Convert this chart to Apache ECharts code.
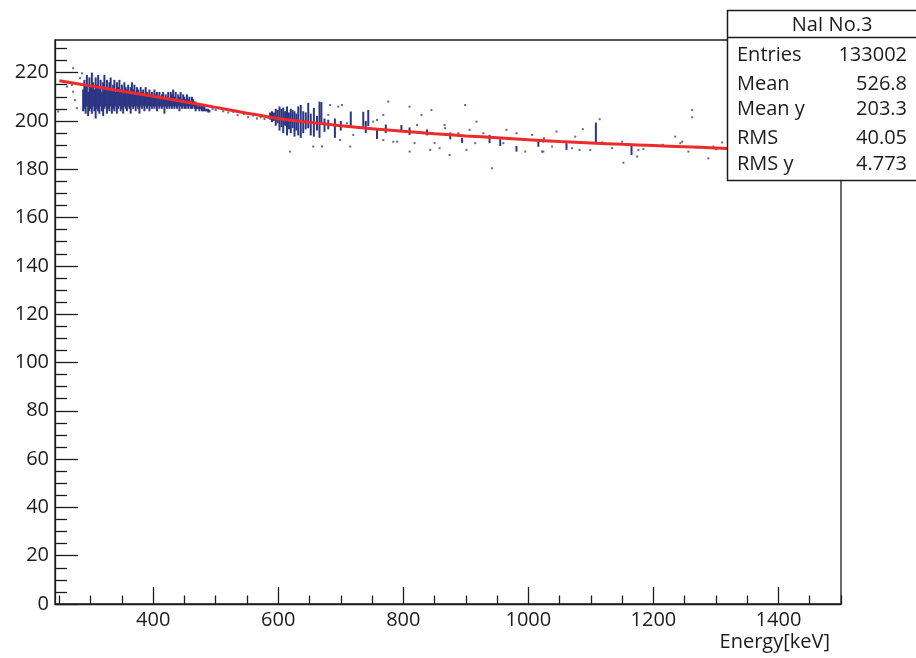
<!DOCTYPE html>
<html>
<head>
<meta charset="utf-8">
<script src="https://cdn.jsdelivr.net/npm/echarts@6/dist/echarts.min.js"></script>
<style>html,body{margin:0;padding:0;background:#fff}#c{width:916px;height:658px}</style>
</head>
<body>
<div id="c"></div>
<script>
// ---- axis ticks / labels ----
const xLabels = [400, 600, 800, 1000, 1200, 1400];
const xMinor = [250, 300, 350, 450, 500, 550, 650, 700, 750, 850, 900, 950, 1050, 1100, 1150, 1250, 1300, 1350, 1450, 1500];
const yLabels = [0, 20, 40, 60, 80, 100, 120, 140, 160, 180, 200, 220];
const yMinor = [5, 10, 15, 25, 30, 35, 45, 50, 55, 65, 70, 75, 85, 90, 95, 105, 110, 115, 125, 130, 135, 145, 150, 155, 165, 170, 175, 185, 190, 195, 205, 210, 215, 225, 230];

// ---- dense band (bins, low / high ends of the filled columns) ----
const denseX = [288,290,292,294,296,298,300,302,304,306,
  308,310,312,314,316,318,320,322,324,326,
  328,330,332,334,336,338,340,342,344,346,
  348,350,352,354,356,358,360,362,364,366,
  368,370,372,374,376,378,380,382,384,386,
  388,390,392,394,396,398,400,402,404,406,
  408,410,412,414,416,418,420,422,424,426,
  428,430,432,434,436,438,440,442,444,446,
  448,450,452,454,456,458,460,462,464,466,
  468,470,472,474,476,478,480,482,484,486,
  488,490];
const denseHi = [213,217,215,219,212,218,214,220,216,213,
  218,215,219,214,217,212,216,219,214,217,
  213,216,218,213,215,217,212,216,214,217,
  213,215,212,216,214,213,215,212,214,216,
  213,215,212,214,213,211,214,212,213,211,
  214,212,210,213,211,212,210,213,211,212,
  210,212,209,211,212,209,211,210,212,209,
  212,211,213,210,212,209,211,210,212,209,
  211,210,209,211,209,210,208,210,209,208,
  208,207,206,207,206,207,206,206,205,205,
  205,204.5];
const denseLo = [204,205,203,206,202,204,205,203,206,204,
  201,205,204,203,206,204,202,205,206,203,
  205,204,206,203,205,204,206,203,205,206,
  204,205,203,206,205,204,206,205,203,206,
  205,206,204,206,205,203,206,205,206,204,
  206,205,206,204,206,205,206,205,206,204,
  206,205,206,205,206,203,206,205,206,205,
  206,205,206,205,206,205,206,204,206,205,
  206,205,205,206,205,206,205,205,206,205,
  204,205,205,204,205,204,204,204,204,204,
  203.5,203.5];

// ---- sparser columns at higher energy ----
const barX  = [587,590,593,596,599,602,605,608,611,614,617,620,623,626,629,632,636,640,644,648,652,657,662,666,669,674,680,690.6,700,716,736,740,744,758,772,797,810,838,875,894,938,955,981,1016,1061,1108,1165];
const barLo = [200.5,199.5,200,198,199,196,197.5,195,198,194,196.5,195,197,193.5,196,194,193,195,196.5,197,194,193.5,196,193,198.3,195.5,196.5,193,196,197.6,197.6,195,197.9,192.5,195,195.6,194.2,194,192.4,190.9,190.8,189.6,187.3,189.3,188,190.8,185.9];
const barHi = [203.5,204,203.5,205,204.5,206,205,205.5,204,206,203.5,205,204.5,204,203,206,206.6,204,203.5,207.5,203,205.4,202,208,207.8,201,200.5,201,200,203.9,203.8,200,204.5,197,198.5,198.3,197.3,196.5,195.2,193,194.2,192.4,189.6,191.4,190.8,199.3,189.6];

// ---- isolated entries ----
const dotX = [248,262,270,272,272,275,278,283,286,288,
  495,500,505,512,520,528,535,545,552,560,566,572,578,583,
  619,656,667,670,680,683,691,696,699,702,710,715,720,752,758,768,768,776,784,790,810,810,818,822,829,836,843,845,850,858,866,867,874,888,899,901,906,915,917,928,942,960,965,981,995,1006,1022,1025,
  1024,1024,1038,1045,1070,1075,1082,1087,1099,1114,1118,1134,1150,1152,1174,1176,1184,1215,1235,1243,1246,1256,1262,1262,1270,1288,1296,1300,1310];
const dotY = [203.9,214.2,214.9,212.1,221.8,208.6,205.3,217.7,219.7,204.5,
  205,204.5,205.5,204,203.5,203.8,202.4,202.8,201.6,202.2,201,201.5,200.8,201.4,
  187.3,189.4,201.8,189.4,202.5,206.6,194.9,205.9,192.1,206.6,199,189.4,194.2,199.7,200.4,202.5,192.1,208,191.4,191.4,205.9,187.3,190.8,198.3,202.5,194.9,188,204.5,190.8,188.7,198.3,197,185.9,194.9,206.6,188,196.3,190.8,199.7,194.9,180.4,190.8,196.3,194.9,187.3,194.2,187.3,192.8,
  191.4,187.3,189.4,195.6,188.7,193.5,188,196.6,188,200.7,191.1,188.7,191.4,182.7,185.2,188,188.3,190.1,193.5,190.8,191.4,187.3,204.5,201.5,189.1,184.5,189.4,188.3,191.1];

// ---- fitted curve ----
const fitX = [250,300,350,400,450,500,550,600,650,700,750,800,850,900,950,1000,1050,1100,1150,1200,1250,1300,1340];
const fitY = [216.6,214.5,212.3,210.2,207.9,205.6,203.2,201.0,199.4,198.0,196.8,195.7,194.7,193.8,193.0,192.2,191.5,190.9,190.3,189.8,189.3,188.8,188.4];

// ---- statistics box ----
const statTitle = 'NaI No.3';
const statNames = ['Entries', 'Mean', 'Mean y', 'RMS', 'RMS y'];
const statValues = ['133002', '526.8', '203.3', '40.05', '4.773'];

const NAVY = '#2c3682';
const INK = '#1c1c1c';
const FONT = 'Open Sans';

const chart = echarts.init(document.getElementById('c'), null, {renderer: 'canvas'});

function colRender(params, api) {
  const a = api.coord([api.value(0), api.value(1)]);
  const b = api.coord([api.value(0), api.value(2)]);
  return {type: 'line', shape: {x1: a[0], y1: a[1], x2: b[0], y2: b[1]},
    style: {stroke: NAVY, lineWidth: 2}};
}

const statGraphics = [
  {type: 'rect', z: 100, shape: {x: 727.5, y: 10.5, width: 240, height: 170}, style: {fill: '#fff', stroke: INK, lineWidth: 1.5}},
  {type: 'line', z: 101, shape: {x1: 727.5, y1: 37.5, x2: 916, y2: 37.5}, style: {stroke: INK, lineWidth: 1.5}},
  {type: 'text', z: 101, x: 832, y: 25, style: {text: statTitle, fontSize: 20, fontFamily: FONT, fill: INK, align: 'center', verticalAlign: 'middle'}}
];
const rowY = [55, 84, 109, 138.5, 164.5];
statNames.forEach((n, i) => {
  statGraphics.push({type: 'text', z: 101, x: 737, y: rowY[i], style: {text: n, fontSize: 20, fontFamily: FONT, fill: INK, align: 'left', verticalAlign: 'middle'}});
  statGraphics.push({type: 'text', z: 101, x: 907, y: rowY[i], style: {text: statValues[i], fontSize: 20, fontFamily: FONT, fill: INK, align: 'right', verticalAlign: 'middle'}});
});

const axisLineStyle = {color: INK, width: 1.3};
const plain = v => String(v);

chart.setOption({
  animation: false,
  backgroundColor: '#fff',
  grid: {left: 55, right: 75, top: 40, bottom: 54, show: true, borderColor: INK, borderWidth: 1.3, backgroundColor: 'transparent'},
  xAxis: [
    {type: 'value', min: 243, max: 1500, position: 'bottom',
      axisLine: {show: true, onZero: false, lineStyle: axisLineStyle},
      axisTick: {show: true, inside: true, length: 17, customValues: xLabels, lineStyle: axisLineStyle},
      axisLabel: {show: true, customValues: xLabels, formatter: plain, fontSize: 20, fontFamily: FONT, color: INK, margin: 6},
      splitLine: {show: false},
      name: 'Energy[keV]', nameLocation: 'end', nameGap: -11,
      nameTextStyle: {fontSize: 20, fontFamily: FONT, color: INK, align: 'right', verticalAlign: 'top', padding: [28, 0, 0, 0]}},
    {type: 'value', min: 243, max: 1500, position: 'bottom', offset: 0,
      axisLine: {show: false},
      axisTick: {show: true, inside: true, length: 8.5, customValues: xMinor, lineStyle: axisLineStyle},
      axisLabel: {show: false}, splitLine: {show: false}}
  ],
  yAxis: [
    {type: 'value', min: 0, max: 233.5, position: 'left',
      axisLine: {show: true, onZero: false, lineStyle: axisLineStyle},
      axisTick: {show: true, inside: true, length: 23, customValues: yLabels, lineStyle: axisLineStyle},
      axisLabel: {show: true, customValues: yLabels, formatter: plain, fontSize: 20, fontFamily: FONT, color: INK, margin: 6},
      splitLine: {show: false}},
    {type: 'value', min: 0, max: 233.5, position: 'left', offset: 0,
      axisLine: {show: false},
      axisTick: {show: true, inside: true, length: 12, customValues: yMinor, lineStyle: axisLineStyle},
      axisLabel: {show: false}, splitLine: {show: false}}
  ],
  series: [
    {type: 'custom', xAxisIndex: 0, yAxisIndex: 0, renderItem: colRender, z: 2,
      data: denseX.map((x, i) => [x, denseLo[i], denseHi[i]])},
    {type: 'custom', xAxisIndex: 0, yAxisIndex: 0, renderItem: colRender, z: 2,
      data: barX.map((x, i) => [x, barLo[i], barHi[i]])},
    {type: 'scatter', xAxisIndex: 0, yAxisIndex: 0, symbol: 'rect', symbolSize: 2, z: 2,
      itemStyle: {color: NAVY, opacity: 0.75},
      data: dotX.map((x, i) => [x, dotY[i]])},
    {type: 'line', xAxisIndex: 0, yAxisIndex: 0, smooth: 0.3, showSymbol: false, z: 5,
      lineStyle: {color: '#ee2a2a', width: 3},
      data: fitX.map((x, i) => [x, fitY[i]])}
  ],
  graphic: statGraphics
});
</script>
</body>
</html>
